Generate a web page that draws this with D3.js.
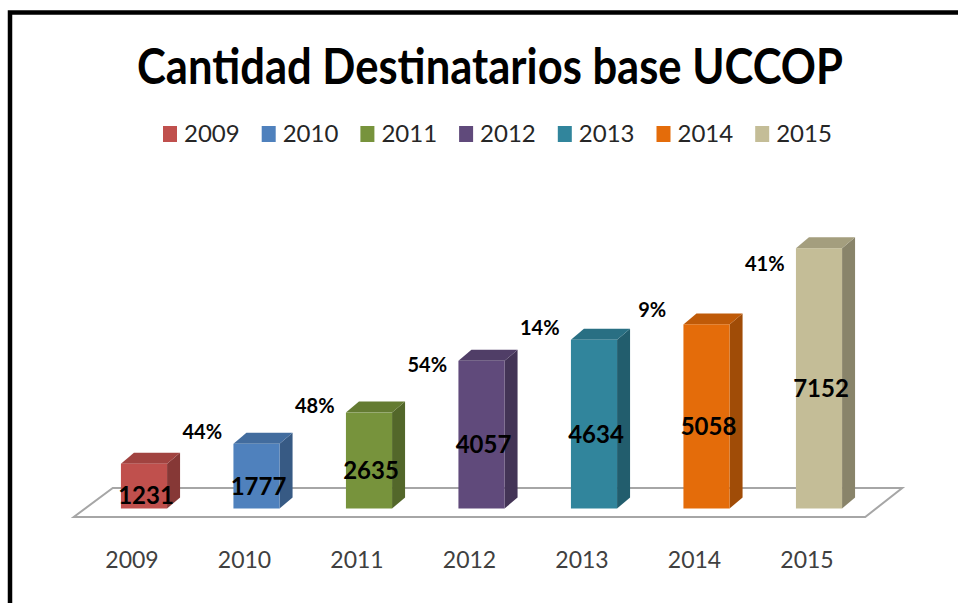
<!DOCTYPE html>
<html lang="es">
<head>
<meta charset="UTF-8" />
<title>Cantidad Destinatarios base UCCOP</title>
<script src="https://d3js.org/d3.v7.min.js"></script>
<style>
    body { margin: 0; background: #fff; }
    text { font-family: Lato, "Open Sans", sans-serif; }
</style>
</head>
<body>
<script>
    var w = 958, h = 603;

    var years = ["2009", "2010", "2011", "2012", "2013", "2014", "2015"];
    var values = [1231, 1777, 2635, 4057, 4634, 5058, 7152];
    var growth = ["44%", "48%", "54%", "14%", "9%", "41%"];
    var colors = ["#C0504D", "#4F81BD", "#77933C", "#604A7B", "#31859C", "#E46C0A", "#C4BD97"];

    var depth = { dx: 13, dy: -11 };

    var svg = d3.select("body").append("svg")
        .attr("width", w)
        .attr("height", h);

    // marco
    svg.append("path")
        .attr("d", "M10,603 L10,12.5 L958,12.5")
        .attr("fill", "none")
        .attr("stroke", "#000")
        .attr("stroke-width", 4.5);

    // titulo
    svg.append("text")
        .attr("x", 490)
        .attr("y", 84)
        .attr("text-anchor", "middle")
        .attr("font-size", 50)
        .attr("font-weight", "bold")
        .attr("textLength", 706)
        .attr("lengthAdjust", "spacingAndGlyphs")
        .text("Cantidad Destinatarios base UCCOP");

    // leyenda
    var legend = svg.selectAll(".legend")
        .data(years)
        .enter().append("g")
        .attr("class", "legend")
        .attr("transform", function(d, i) { return "translate(" + (163 + i * 98.7) + ",134)"; });
    legend.append("rect")
        .attr("x", 0).attr("y", -8)
        .attr("width", 14).attr("height", 16)
        .attr("fill", function(d, i) { return colors[i]; });
    legend.append("text")
        .attr("x", 21).attr("y", 8)
        .attr("font-size", 24)
        .attr("fill", "#262626")
        .text(function(d) { return d; });

    // escalas
    var x = d3.scaleBand()
        .domain(years)
        .range([87.75, 875.25])
        .paddingInner(0.59)
        .paddingOuter(0.295);
    var y = d3.scaleLinear()
        .domain([0, 8000])
        .range([508.5, 217.3]);
    var bw = x.bandwidth();
    var y0 = y(0);

    // piso
    var fl = x.range()[0] - 14, fr = x.range()[1] - 10;
    svg.append("path")
        .attr("d", "M" + fl + ",517 L" + fr + ",517 L" + (fr + 37) + ",488 L" + (fl + 39) + ",488 Z")
        .attr("fill", "#fff")
        .attr("stroke", "#a6a6a6")
        .attr("stroke-width", 2);

    // barras 3D
    var bars = svg.selectAll(".bar")
        .data(values)
        .enter().append("g")
        .attr("class", "bar");
    bars.append("path")
        .attr("d", function(d, i) {
            var x0 = x(years[i]) + bw, yt = y(d);
            return "M" + x0 + "," + y0 + " L" + (x0 + depth.dx) + "," + (y0 + depth.dy) +
                " L" + (x0 + depth.dx) + "," + (yt + depth.dy) + " L" + x0 + "," + yt + " Z";
        })
        .attr("fill", function(d, i) { return d3.color(colors[i]).darker(1); });
    bars.append("path")
        .attr("d", function(d, i) {
            var x0 = x(years[i]), yt = y(d);
            return "M" + x0 + "," + yt + " L" + (x0 + depth.dx) + "," + (yt + depth.dy) +
                " L" + (x0 + bw + depth.dx) + "," + (yt + depth.dy) + " L" + (x0 + bw) + "," + yt + " Z";
        })
        .attr("fill", function(d, i) { return d3.color(colors[i]).darker(0.5); });
    bars.append("rect")
        .attr("x", function(d, i) { return x(years[i]); })
        .attr("y", function(d) { return y(d); })
        .attr("width", bw)
        .attr("height", function(d) { return y0 - y(d); })
        .attr("fill", function(d, i) { return colors[i]; });

    // etiquetas de valor
    svg.selectAll(".val")
        .data(values)
        .enter().append("text")
        .attr("class", "val")
        .attr("x", function(d, i) { return x(years[i]) + bw / 2 + 2; })
        .attr("y", function(d) { return (y(d) + y0) / 2 + 10; })
        .attr("dy", "0.35em")
        .attr("text-anchor", "middle")
        .attr("font-size", 24)
        .attr("font-weight", "bold")
        .attr("fill", "#000")
        .text(function(d) { return d; });

    // porcentajes de crecimiento
    svg.selectAll(".pct")
        .data(growth)
        .enter().append("text")
        .attr("class", "pct")
        .attr("x", function(d, i) { return (x(years[i]) + x(years[i + 1])) / 2 + bw / 2 + 2; })
        .attr("y", function(d, i) { return (y(values[i]) + y(values[i + 1])) / 2 - 22; })
        .attr("dy", "0.35em")
        .attr("text-anchor", "middle")
        .attr("font-size", 20)
        .attr("font-weight", "bold")
        .attr("fill", "#000")
        .text(function(d) { return d; });

    // eje x
    svg.selectAll(".cat")
        .data(years)
        .enter().append("text")
        .attr("class", "cat")
        .attr("x", function(d) { return x(d) + bw / 2 - 12; })
        .attr("y", 560)
        .attr("dy", "0.35em")
        .attr("text-anchor", "middle")
        .attr("font-size", 23)
        .attr("fill", "#404040")
        .text(function(d) { return d; });
</script>
</body>
</html>
